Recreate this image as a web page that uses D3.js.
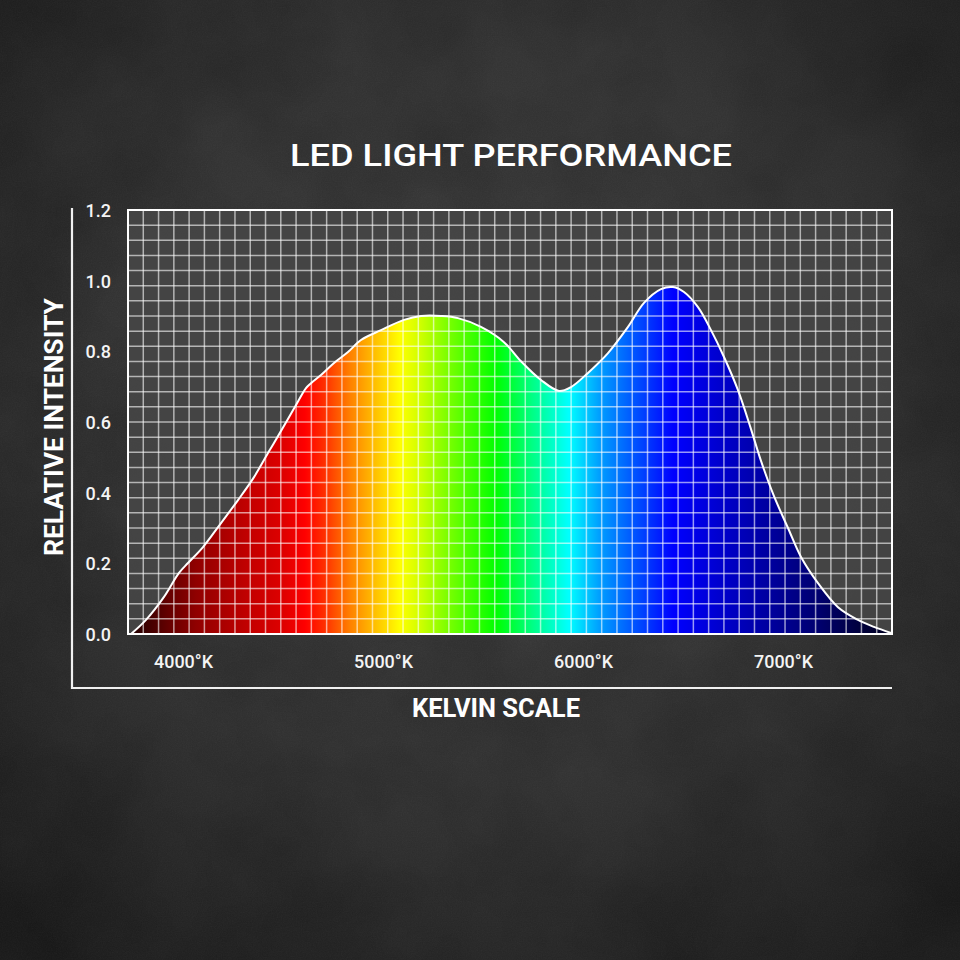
<!DOCTYPE html>
<html><head><meta charset="utf-8">
<script src="https://cdn.jsdelivr.net/npm/d3@7"></script>
<style>html,body{margin:0;padding:0;background:#2b2b2b;} svg{display:block}</style>
</head><body><svg id="chart" width="960" height="960"></svg>
<script>
// ---- data ----
const kelvin = [3740, 3815, 3905, 3980, 4025, 4100, 4190, 4275, 4355, 4430, 4475, 4555, 4615, 4640, 4690, 4755, 4825, 4890, 4990, 5105, 5190, 5290, 5375, 5490, 5605, 5690, 5790, 5880, 5940, 6025, 6125, 6225, 6305, 6390, 6450, 6505, 6575, 6640, 6705, 6775, 6840, 6890, 6955, 7025, 7090, 7175, 7275, 7375, 7455, 7540];
const intensity = [0, 0.04, 0.105, 0.173, 0.201, 0.246, 0.314, 0.379, 0.444, 0.517, 0.56, 0.638, 0.696, 0.71, 0.733, 0.767, 0.798, 0.832, 0.86, 0.889, 0.9, 0.9, 0.894, 0.869, 0.826, 0.772, 0.719, 0.688, 0.699, 0.739, 0.795, 0.869, 0.937, 0.976, 0.982, 0.968, 0.925, 0.86, 0.784, 0.69, 0.58, 0.49, 0.39, 0.30, 0.218, 0.144, 0.076, 0.04, 0.02, 0.003];
const yTicks = [0, 0.2, 0.4, 0.6, 0.8, 1.0, 1.2];
const yTickLabels = ["0.0", "0.2", "0.4", "0.6", "0.8", "1.0", "1.2"];
const xTicks = [4000, 5000, 6000, 7000];
const xTickLabels = ["4000°K", "5000°K", "6000°K", "7000°K"];
const spectrumKelvin = [3765, 3915, 4065, 4315, 4510, 4610, 4710, 4835, 4960, 5085, 5185, 5315, 5565, 5740, 5930, 6080, 6265, 6450, 6675, 6925, 7170, 7420, 7540];
const spectrumColors = ["#2a0000", "#600000", "#900000", "#c00000", "#e00000", "#ff0000", "#ff3000", "#ff8000", "#ffc000", "#ffff00", "#d0ff00", "#80ff00", "#00ff00", "#00ff80", "#00ffff", "#00a0ff", "#0050ff", "#0000ff", "#0000d0", "#0000a0", "#000070", "#000035", "#000020"];
const titleText = "LED LIGHT PERFORMANCE";
const xTitle = "KELVIN SCALE";
const yTitle = "RELATIVE INTENSITY";

// ---- layout ----
const W = 960, H = 960;
const plot = {left: 128, right: 892, top: 210, bottom: 634};
const svg = d3.select("#chart");
const defs = svg.append("defs");

const x = d3.scaleLinear().domain([3725, 7545]).range([plot.left, plot.right]);
const y = d3.scaleLinear().domain([0, 1.2]).range([plot.bottom, plot.top]);

// background
const bg = defs.append("radialGradient").attr("id", "bgGrad")
  .attr("cx", "50%").attr("cy", "42%").attr("r", "72%");
bg.append("stop").attr("offset", "0%").attr("stop-color", "#3d3d3d");
bg.append("stop").attr("offset", "55%").attr("stop-color", "#323232");
bg.append("stop").attr("offset", "100%").attr("stop-color", "#1c1c1c");
svg.append("rect").attr("width", W).attr("height", H).attr("fill", "url(#bgGrad)");

const f1 = defs.append("filter").attr("id", "clouds").attr("x", 0).attr("y", 0).attr("width", "100%").attr("height", "100%");
f1.append("feTurbulence").attr("type", "fractalNoise").attr("baseFrequency", "0.008").attr("numOctaves", 4).attr("seed", 7);
f1.append("feColorMatrix").attr("type", "matrix")
  .attr("values", "0 0 0 0 0  0 0 0 0 0  0 0 0 0 0  1 0 0 0 -0.35");
svg.append("rect").attr("width", W).attr("height", H).attr("filter", "url(#clouds)").attr("opacity", 0.35);

const f2 = defs.append("filter").attr("id", "grain").attr("x", 0).attr("y", 0).attr("width", "100%").attr("height", "100%");
f2.append("feTurbulence").attr("type", "fractalNoise").attr("baseFrequency", "0.8").attr("numOctaves", 2).attr("seed", 3);
f2.append("feColorMatrix").attr("type", "saturate").attr("values", 0);
svg.append("rect").attr("width", W).attr("height", H).attr("filter", "url(#grain)").attr("opacity", 0.05);

// plot background
svg.append("rect")
  .attr("x", plot.left).attr("y", plot.top)
  .attr("width", plot.right - plot.left).attr("height", plot.bottom - plot.top)
  .attr("fill", "#464646").attr("opacity", 0.9);

// spectrum gradient
const sg = defs.append("linearGradient").attr("id", "spectrum")
  .attr("gradientUnits", "userSpaceOnUse")
  .attr("x1", x(spectrumKelvin[0])).attr("x2", x(spectrumKelvin[spectrumKelvin.length - 1]))
  .attr("y1", 0).attr("y2", 0);
const k0 = spectrumKelvin[0], k1 = spectrumKelvin[spectrumKelvin.length - 1];
spectrumKelvin.forEach((k, i) => {
  sg.append("stop").attr("offset", (k - k0) / (k1 - k0)).attr("stop-color", spectrumColors[i]);
});

const pts = kelvin.map((k, i) => [k, intensity[i]]);
const curve = d3.curveCatmullRom.alpha(0.5);
const area = d3.area().x(d => x(d[0])).y0(y(0)).y1(d => y(d[1])).curve(curve);
const line = d3.line().x(d => x(d[0])).y(d => y(d[1])).curve(curve);

svg.append("path").datum(pts).attr("d", area).attr("fill", "url(#spectrum)");

// grid (50 x 28 cells)
const nCols = 50, nRows = 28;
const gx = d3.range(1, nCols).map(i => x.domain()[0] + i * (x.domain()[1] - x.domain()[0]) / nCols);
const gy = d3.range(1, nRows).map(i => i * 1.2 / nRows);
const grid = svg.append("g").attr("stroke", "#ffffff").attr("stroke-opacity", 0.6).attr("stroke-width", 1.5);
grid.selectAll("line.v").data(gx).join("line").attr("class", "v")
  .attr("x1", d => x(d)).attr("x2", d => x(d)).attr("y1", plot.top).attr("y2", plot.bottom);
grid.selectAll("line.h").data(gy).join("line").attr("class", "h")
  .attr("y1", d => y(d)).attr("y2", d => y(d)).attr("x1", plot.left).attr("x2", plot.right);

// curve outline
svg.append("path").datum(pts).attr("d", line).attr("fill", "none")
  .attr("stroke", "#ffffff").attr("stroke-width", 2);

// plot border
svg.append("rect")
  .attr("x", plot.left).attr("y", plot.top)
  .attr("width", plot.right - plot.left).attr("height", plot.bottom - plot.top)
  .attr("fill", "none").attr("stroke", "#ffffff").attr("stroke-width", 2);

// outer axis frame
svg.append("path")
  .attr("d", `M72,208 L72,688 L${plot.right},688`)
  .attr("fill", "none").attr("stroke", "#f0f0f0").attr("stroke-width", 2.2);

const font = "Roboto, 'Noto Sans', sans-serif";

// y tick labels
const yAxis = d3.axisLeft(y).tickValues(yTicks).tickFormat((d, i) => yTickLabels[i]).tickSize(0).tickPadding(0);
const gY = svg.append("g").attr("transform", `translate(111,0)`).call(yAxis);
gY.select(".domain").remove();
gY.selectAll("text").attr("fill", "#f4f4f4").attr("font-family", font)
  .attr("font-size", 18).attr("font-weight", 500).attr("dy", "0.36em");

// x tick labels
const xAxis = d3.axisBottom(x).tickValues(xTicks).tickFormat((d, i) => xTickLabels[i]).tickSize(0).tickPadding(0);
const gX = svg.append("g").attr("transform", `translate(0,668)`).call(xAxis);
gX.select(".domain").remove();
gX.selectAll("text").attr("fill", "#f4f4f4").attr("font-family", font)
  .attr("font-size", 18.5).attr("font-weight", 500).attr("dy", 0).attr("y", 0)
  .attr("textLength", 59).attr("lengthAdjust", "spacingAndGlyphs");

// titles
svg.append("text").attr("x", 511).attr("y", 166).attr("text-anchor", "middle")
  .attr("fill", "#ffffff").attr("font-family", font).attr("font-size", 32).attr("font-weight", 500)
  .attr("textLength", 442).attr("lengthAdjust", "spacingAndGlyphs").text(titleText);

svg.append("text").attr("x", 496).attr("y", 717).attr("text-anchor", "middle")
  .attr("fill", "#ffffff").attr("font-family", font).attr("font-size", 26).attr("font-weight", 700)
  .attr("textLength", 168).attr("lengthAdjust", "spacingAndGlyphs").text(xTitle);

svg.append("text").attr("transform", "translate(63,427) rotate(-90)").attr("text-anchor", "middle")
  .attr("fill", "#ffffff").attr("font-family", font).attr("font-size", 26).attr("font-weight", 700)
  .attr("textLength", 258).attr("lengthAdjust", "spacingAndGlyphs").text(yTitle);
</script>
</body></html>
